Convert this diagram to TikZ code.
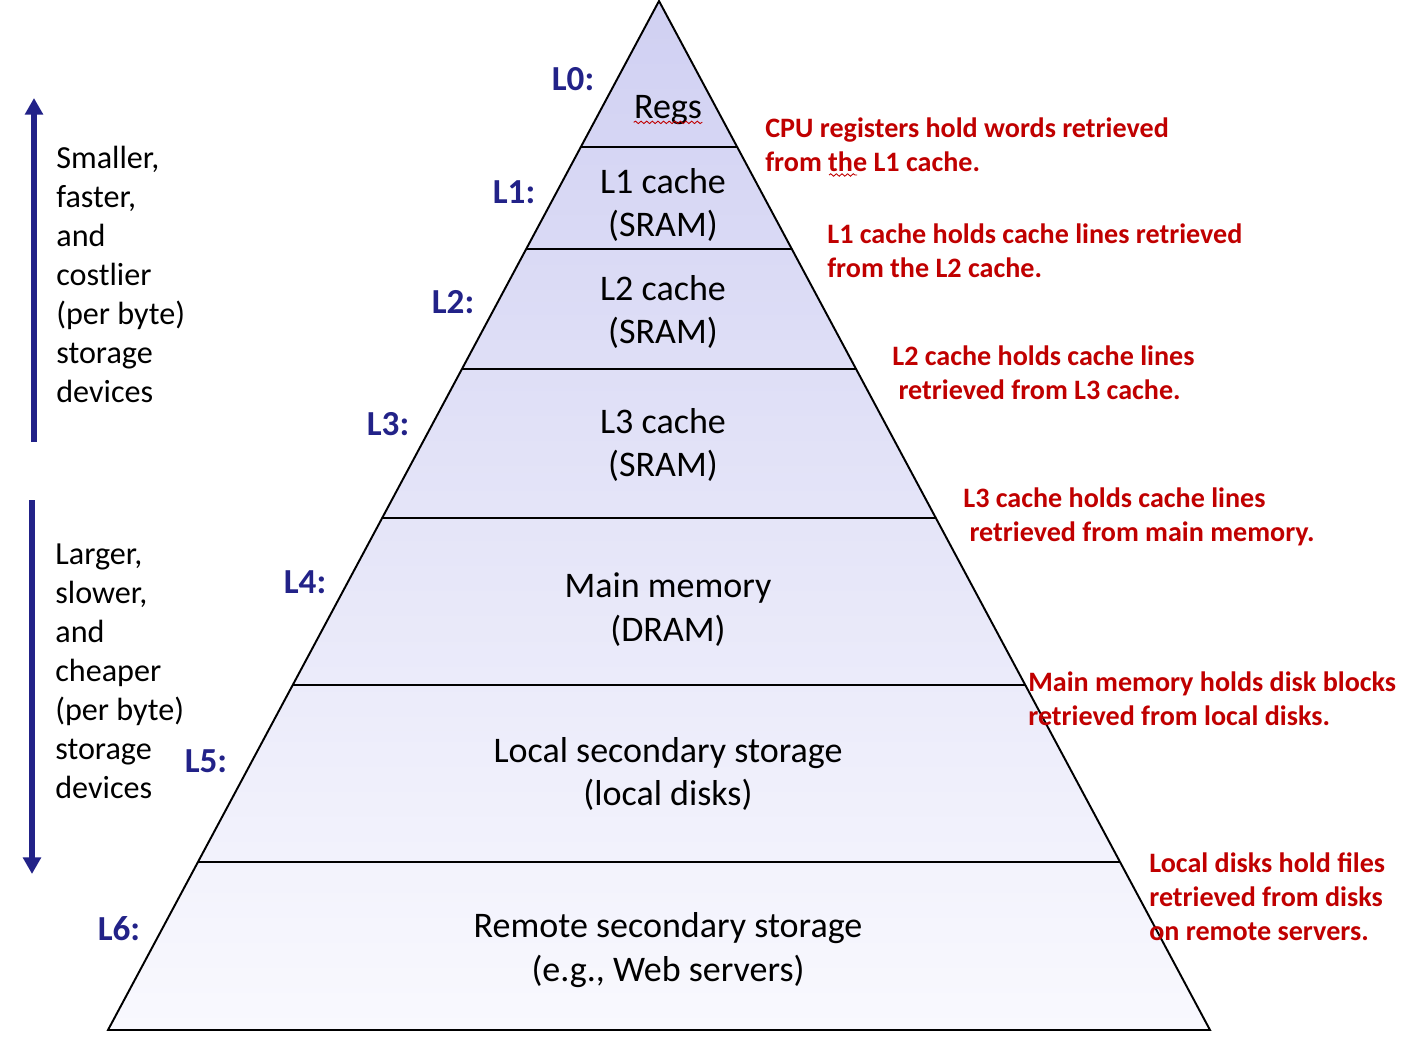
\documentclass[tikz,border=0pt]{standalone}
\usepackage{fontspec}
\setmainfont{Carlito}
\usetikzlibrary{arrows.meta, positioning, decorations.pathmorphing}
\definecolor{lvlblue}{RGB}{34,34,136}
\definecolor{notered}{RGB}{192,0,0}
\definecolor{pyrtop}{RGB}{208,208,242}
\definecolor{pyrbot}{RGB}{249,249,254}
\tikzset{
  level/.style    = {align=center, font=\fontsize{20.5}{25}\selectfont, inner sep=0pt},
  lvllabel/.style = {font=\fontsize{20}{24}\selectfont\bfseries, text=lvlblue, inner sep=0pt},
  note/.style     = {align=left, anchor=west, text=notered, inner sep=0pt,
                     font=\fontsize{16}{19.3}\selectfont\bfseries},
  side/.style     = {align=left, anchor=west, inner sep=0pt,
                     font=\fontsize{18.3}{22.2}\selectfont},
  tier/.style     = {line width=1.1pt, line join=miter},
  bigarrow/.style = {-{Triangle[width=10pt, length=9.5pt]}, line width=3pt, color=lvlblue},
  squiggle/.style = {notered, line width=0.5pt, decorate,
                     decoration={snake, amplitude=0.7pt, segment length=3.2pt}},
}

\begin{document}
\begin{tikzpicture}[x=0.02cm, y=-0.02cm]
  \useasboundingbox (0,0) rectangle (1410,1037);
  % pyramid
  \coordinate (apex) at (659,1);
  \coordinate (bl) at (108,1030);
  \coordinate (br) at (1210,1030);
  \shade[top color=pyrtop, bottom color=pyrbot] (apex) -- (bl) -- (br) -- cycle;
  \foreach \y in {147,249,369,518,685,862} {
    \draw[tier] ({659-0.535*\y},\y) -- ({659+0.535*\y},\y);
  }
  \draw[tier] (apex) -- (bl) -- (br) -- cycle;
  % levels
  \node[level] (regs) at (668,110) {Regs};
  \node[level] (l1) at (663,205) {L1 cache\\(SRAM)};
  \node[level] (l2) at (663,312) {L2 cache\\(SRAM)};
  \node[level] (l3) at (663,445) {L3 cache\\(SRAM)};
  \node[level] (l4) at (668,610) {Main memory\\(DRAM)};
  \node[level] (l5) at (668,774) {Local secondary storage\\(local disks)};
  \node[level] (l6) at (668,950) {Remote secondary storage\\(e.g., Web servers)};
  \draw[squiggle] ([yshift=1.5pt]regs.south west) -- ([yshift=1.5pt]regs.south east);
  % level labels
  \node[lvllabel] (n0) at (573,79) {L0:};
  \node[lvllabel] (n1) at (514,192) {L1:};
  \node[lvllabel] (n2) at (453,302) {L2:};
  \node[lvllabel] (n3) at (388,424) {L3:};
  \node[lvllabel] (n4) at (305,582) {L4:};
  \node[lvllabel] (n5) at (206,761) {L5:};
  \node[lvllabel] (n6) at (119,929) {L6:};
  % notes
  \node[note] (t0) at (765,145) {CPU registers hold words retrieved\\from the L1 cache.};
  \draw[squiggle] (829,175) -- (857,175);
  \node[note] (t1) at (827,251) {L1 cache holds cache lines retrieved\\from the L2 cache.};
  \node[note] (t2) at (892,373) {L2 cache holds cache lines\\\hspace*{3.5pt}retrieved from L3 cache.};
  \node[note] (t3) at (963,517) {L3 cache holds cache lines\\\hspace*{3.5pt}retrieved from main memory.};
  \node[note] (t4) at (1028,699) {Main memory holds disk blocks\\retrieved from local disks.};
  \node[note] (t5) at (1149,897) {Local disks hold files\\retrieved from disks\\on remote servers.};
  % side arrows
  \coordinate (upfrom) at (34,442);
  \coordinate (upto) at (34,98);
  \coordinate (dnfrom) at (32,500);
  \coordinate (dnto) at (32,874);
  \draw[bigarrow] (upfrom) -- (upto);
  \draw[bigarrow] (dnfrom) -- (dnto);
  \node[side] (fast) at (56,274) {Smaller,\\faster,\\and\\costlier\\(per byte)\\storage\\devices};
  \node[side] (slow) at (55,671) {Larger,\\slower,\\and\\cheaper\\(per byte)\\storage\\devices};
\end{tikzpicture}
\end{document}
